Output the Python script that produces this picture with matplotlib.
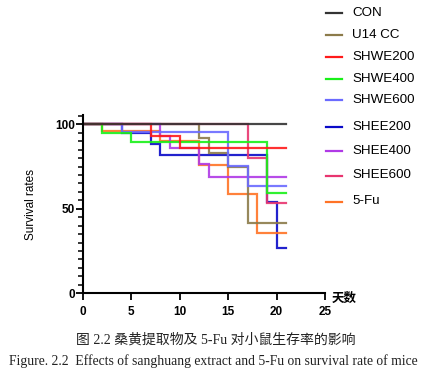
import matplotlib
matplotlib.use("Agg")
import matplotlib.pyplot as plt
from matplotlib.lines import Line2D
from matplotlib.ticker import MultipleLocator

# survival data (days, % survival)
groups = ["CON", "U14 CC", "SHWE200", "SHWE400", "SHWE600",
          "SHEE200", "SHEE400", "SHEE600", "5-Fu"]

days_con = [0, 21]
surv_con = [100, 100]
days_u14 = [0, 12, 13, 15, 17, 21]
surv_u14 = [100, 91.7, 83.3, 75, 41.7, 41.7]
days_shwe200 = [0, 7, 10, 21]
surv_shwe200 = [100, 93.3, 85.7, 85.7]
days_shwe400 = [0, 2, 5, 19, 21]
surv_shwe400 = [100, 95, 89.5, 59.5, 59.5]
days_shwe600 = [0, 4, 15, 17, 21]
surv_shwe600 = [100, 95.2, 75.5, 63.6, 63.6]
days_shee200 = [0, 4, 7, 8, 19, 20, 21]
surv_shee200 = [100, 95, 88.5, 82.1, 54, 27, 27]
days_shee400 = [0, 8, 9, 12, 13, 21]
surv_shee400 = [100, 92.8, 85.8, 76.3, 68.6, 68.6]
days_shee600 = [0, 17, 19, 21]
surv_shee600 = [100, 80.2, 53.3, 53.3]
days_5fu = [0, 2, 8, 12, 15, 18, 21]
surv_5fu = [100, 96, 90, 76.2, 58.8, 35.4, 35.4]

all_days = [days_con, days_u14, days_shwe200, days_shwe400, days_shwe600,
            days_shee200, days_shee400, days_shee600, days_5fu]
all_surv = [surv_con, surv_u14, surv_shwe200, surv_shwe400, surv_shwe600,
            surv_shee200, surv_shee400, surv_shee600, surv_5fu]
colors = ["#333333", "#8c7b4a", "#ff1a1a", "#19f019", "#6b6bff",
          "#0a0ac8", "#b03ae6", "#e8356f", "#ff7326"]

fig = plt.figure(figsize=(4.25, 3.72), dpi=100)
ax = fig.add_axes([0.1953, 0.2116, 0.5694, 0.4793])

# draw back to front so CON ends on top
order = [5, 8, 1, 7, 6, 4, 3, 2, 0]
for i in order:
    ax.step(all_days[i], all_surv[i], where="post", color=colors[i],
            lw=1.6, alpha=0.9, solid_joinstyle="miter")

ax.set_xlim(0, 25)
ax.set_ylim(0, 105.5)
ax.xaxis.set_major_locator(MultipleLocator(5))
ax.yaxis.set_major_locator(MultipleLocator(50))
ax.yaxis.set_minor_locator(MultipleLocator(5))
for s in ["top", "right"]:
    ax.spines[s].set_visible(False)
for s in ["left", "bottom"]:
    ax.spines[s].set_linewidth(1.5)
ax.tick_params(axis="both", which="major", length=5, width=1.3, direction="out")
ax.tick_params(axis="y", which="minor", length=3.5, width=1.1)
ax.tick_params(axis="y", pad=1)
ax.tick_params(axis="x", pad=4)
for lab in ax.get_xticklabels() + ax.get_yticklabels():
    lab.set_fontfamily("Liberation Sans")
    lab.set_fontweight("bold")
    lab.set_fontsize(8.5)

ax.set_ylabel("Survival rates", family="Liberation Sans", fontsize=8.5, labelpad=13)
fig.text(332 / 425, 1 - 298 / 372, "天数", family="Noto Sans CJK SC",
         fontweight="bold", fontsize=9, va="center", ha="left")

# legend, placed by hand to follow the original spacing
leg_y = [13, 35, 57, 79, 100, 126.5, 150.5, 175.5, 201.5]
for i, name in enumerate(groups):
    yy = 1 - leg_y[i] / 372
    fig.add_artist(Line2D([326 / 425, 342 / 425], [yy, yy], color=colors[i],
                          lw=1.6, transform=fig.transFigure))
    fig.text(352 / 425, yy, name, family="Liberation Sans", fontsize=9.6,
             va="center", ha="left")

fig.text(0.5 + 3 / 425, 1 - 340 / 372, "图 2.2 桑黄提取物及 5-Fu 对小鼠生存率的影响",
         family=["Liberation Serif", "Noto Sans CJK SC"], fontsize=10,
         color="#222222", ha="center", va="center")
fig.text(0.5 + 1 / 425, 1 - 361.5 / 372,
         "Figure. 2.2  Effects of sanghuang extract and 5-Fu on survival rate of mice",
         family="Liberation Serif", fontsize=9.85, color="#222222",
         ha="center", va="center")

fig.savefig("out.png", dpi=100)
